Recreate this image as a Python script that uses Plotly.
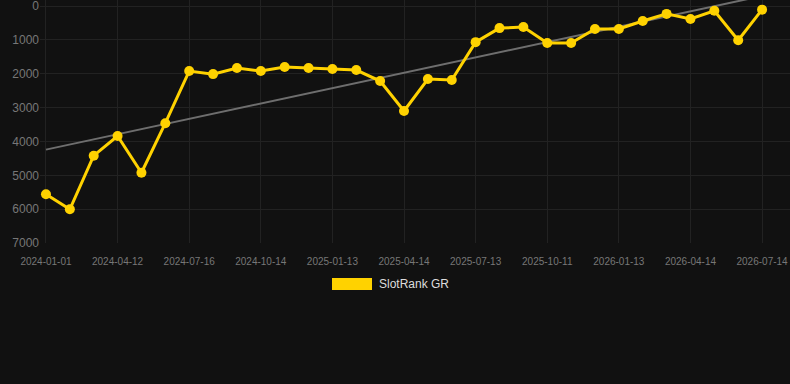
import numpy as np
import plotly.graph_objects as go

dates = [
    "2024-01-01", "2024-02-04", "2024-03-09", "2024-04-12", "2024-05-14", "2024-06-15",
    "2024-07-16", "2024-08-15", "2024-09-14", "2024-10-14", "2024-11-13", "2024-12-13",
    "2025-01-13", "2025-02-12", "2025-03-15", "2025-04-14", "2025-05-14", "2025-06-13",
    "2025-07-13", "2025-08-12", "2025-09-11", "2025-10-11", "2025-11-11", "2025-12-12",
    "2026-01-13", "2026-02-12", "2026-03-14", "2026-04-14", "2026-05-14", "2026-06-13",
    "2026-07-14",
]
ranks = [5560, 6005, 4420, 3840, 4925, 3460, 1920, 2010, 1830, 1920, 1800, 1830,
         1860, 1890, 2215, 3100, 2155, 2185, 1065, 650, 620, 1090, 1090, 675,
         675, 440, 230, 380, 140, 1010, 105]
tick_labels = dates[::3]
series_name = "SlotRank GR"
y_ticks = [0, 1000, 2000, 3000, 4000, 5000, 6000, 7000]

idx = np.arange(len(ranks))
slope, intercept = np.polyfit(idx, ranks, 1)
trend = [intercept, intercept + slope * (len(ranks) - 1)]

gold = "#FFD200"
fig = go.Figure()
fig.add_trace(go.Scatter(
    x=[dates[0], dates[-1]], y=trend, mode="lines",
    line=dict(color="#6e6e6e", width=2), showlegend=False, hoverinfo="skip",
))
fig.add_trace(go.Scatter(
    x=dates, y=ranks, mode="lines+markers", name=series_name,
    line=dict(color=gold, width=3), marker=dict(color=gold, size=10),
    showlegend=False,
))

# legend drawn as box + text
fig.add_shape(type="rect", xref="paper", yref="paper",
              x0=(332 - 40) / 750, x1=(372 - 40) / 750,
              y0=-(290 - 243) / 243, y1=-(278 - 243) / 243,
              fillcolor=gold, line=dict(width=0))
fig.add_annotation(xref="paper", yref="paper", x=(377 - 40) / 750, y=-(284 - 243) / 243,
                   text=series_name, showarrow=False, xanchor="left", yanchor="middle",
                   font=dict(color="#dddddd", size=12))

fig.update_layout(
    width=790, height=384,
    margin=dict(l=40, r=0, t=0, b=141),
    paper_bgcolor="#111111", plot_bgcolor="#111111",
    font=dict(family="Liberation Sans, Arial, sans-serif", color="#777777"),
    showlegend=False,
    xaxis=dict(type="category", categoryorder="array", categoryarray=dates,
               tickmode="array", tickvals=tick_labels, ticktext=tick_labels,
               range=[-0.25, len(dates) - 1 + 1.17],
               showgrid=True, gridcolor="#222222", gridwidth=1,
               zeroline=False, showline=False,
               ticks="outside", ticklen=9, tickcolor="rgba(0,0,0,0)",
               tickfont=dict(size=10, color="#777777")),
    yaxis=dict(range=[7000, -180], tickvals=y_ticks,
               showgrid=True, gridcolor="#222222", gridwidth=1,
               zeroline=False, showline=False, ticks="",
               ticklabeloverflow="allow",
               tickfont=dict(size=12, color="#777777")),
)
fig.write_html("out.html")
